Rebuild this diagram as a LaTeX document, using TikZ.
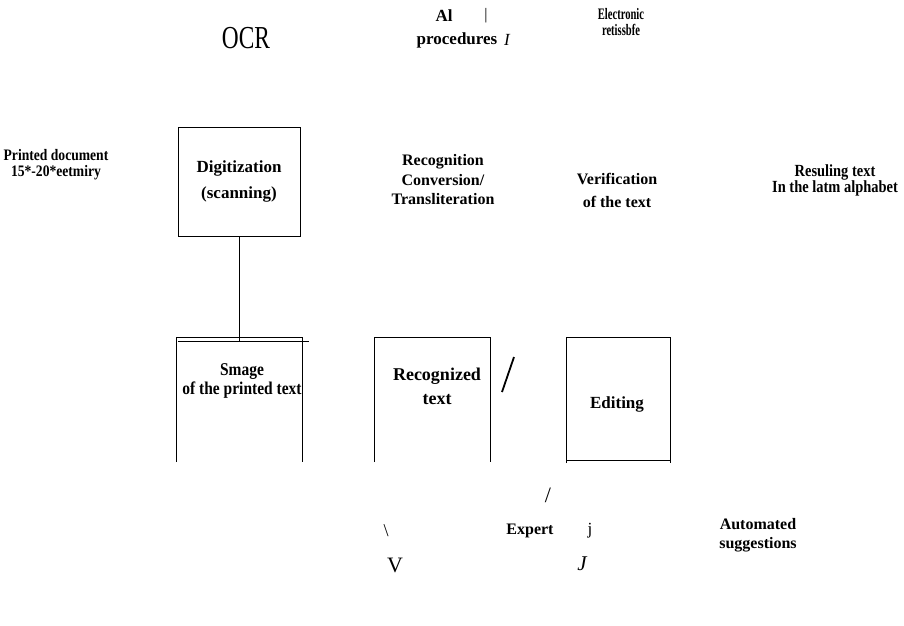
\documentclass[tikz,border=0pt]{standalone}
\usepackage{fontspec}
\usepackage{graphicx}
\setmainfont{Liberation Serif}
\newcommand\cnd[2]{\scalebox{#1}[1]{#2}}
\begin{document}
\begin{tikzpicture}[x=1pt,y=-1pt,
  lbl/.style={font=\bfseries\fontsize{16}{19.5}\selectfont, align=center, inner sep=0pt},
  plain/.style={font=\fontsize{16}{19}\selectfont, inner sep=0pt},
  edge/.style={line width=0.9pt, black}]
\useasboundingbox (0,0) rectangle (904,625);
% --- box placeholders
\node[inner sep=0pt, minimum width=121pt, minimum height=108pt] (dig) at (239.5,182) {};
\node[inner sep=0pt, minimum width=125pt, minimum height=124pt] (img) at (239.5,400) {};
\node[inner sep=0pt, minimum width=115pt, minimum height=124pt] (rec) at (432.5,400) {};
\node[inner sep=0pt, minimum width=103pt, minimum height=125pt] (edi) at (618.5,400.5) {};
\coordinate (imgline0) at (178,341);
\coordinate (imgline1) at (309,341);
% --- boxes
\draw[edge] (dig.north west) rectangle (dig.south east);
\draw[edge] (img.south west) |- (img.north east) -- (img.south east);
\draw[edge] (imgline0) -- (imgline1);
\draw[edge] (dig.south) -- (dig.south |- imgline0);
\draw[edge] (rec.south west) |- (rec.north east) -- (rec.south east);
\draw[edge] (edi.south west) |- (edi.north east) -- (edi.south east);
\draw[edge] ([yshift=3pt]edi.south west) -- ([yshift=3pt]edi.south east);
\coordinate (sl0) at (502,392);
\coordinate (sl1) at (514,357);
\draw[line width=1.8pt] (sl0) -- (sl1);
% --- top texts
\node[font=\fontsize{32}{32}\selectfont, inner sep=0pt] (ocr) at (246,38) {\cnd{0.73}{OCR}};
\node[lbl, font=\bfseries\fontsize{17}{19}\selectfont] (al) at (444,16) {Al};
\node[plain] (bar) at (486,16) {|};
\node[lbl, font=\bfseries\fontsize{17}{19}\selectfont] (proc) at (457,40) {procedures};
\node[plain, font=\itshape\fontsize{17}{19}\selectfont] (iI) at (507,40) {I};
\node[lbl, font=\bfseries\fontsize{16}{16.5}\selectfont] (elec) at (621,22) {\cnd{0.66}{Electronic}\\\cnd{0.66}{retissbfe}};
% --- middle row texts
\node[lbl, font=\bfseries\fontsize{16}{16}\selectfont] (printed) at (56,165) {\cnd{0.85}{Printed document}\\\cnd{0.85}{15*-20*eetmiry}};
\node[lbl, font=\bfseries\fontsize{17}{26}\selectfont] (digt) at (239,181) {Digitization\\(scanning)};
\node[lbl, font=\bfseries\fontsize{16}{19.5}\selectfont] (recog) at (443,180) {Recognition\\Conversion/\\Transliteration};
\node[lbl, font=\bfseries\fontsize{16}{23}\selectfont] (verif) at (617,190) {Verification\\of the text};
\node[lbl, font=\bfseries\fontsize{17}{16}\selectfont] (result) at (835,180) {\cnd{0.85}{Resuling text}\\\cnd{0.85}{In the latm alphabet}};
% --- box texts
\node[lbl, font=\bfseries\fontsize{18}{19}\selectfont] (imgt) at (242,381) {\cnd{0.86}{Smage}\\\cnd{0.86}{of the printed text}};
\node[lbl, font=\bfseries\fontsize{18}{24}\selectfont] (recogt) at (437,386) {Recognized\\text};
\node[lbl, font=\bfseries\fontsize{17}{20}\selectfont] (edit) at (617,404) {Editing};
% --- bottom texts
\node[plain, font=\fontsize{22}{22}\selectfont] (sl2) at (548,495) {/};
\node[plain, font=\fontsize{18}{18}\selectfont] (bs) at (386,531) {\textbackslash};
\node[lbl] (expert) at (530,531) {Expert};
\node[plain, font=\fontsize{17}{17}\selectfont] (jj) at (590,531) {j};
\node[plain, font=\fontsize{22}{22}\selectfont] (vv) at (395,565) {V};
\node[plain, font=\itshape\fontsize{21}{21}\selectfont] (JJ) at (582,564) {J};
\node[lbl, font=\bfseries\fontsize{16}{19}\selectfont] (auto) at (758,535) {Automated\\suggestions};
\end{tikzpicture}
\end{document}
